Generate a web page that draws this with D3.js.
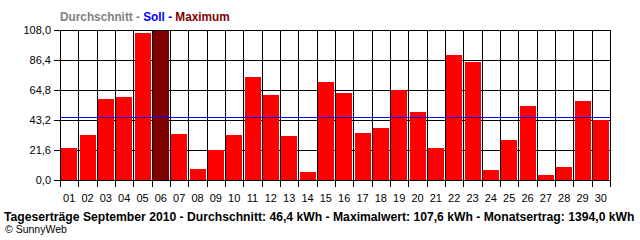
<!DOCTYPE html>
<html>
<head>
<meta charset="utf-8">
<script src="https://cdn.jsdelivr.net/npm/d3@7"></script>
<style>
html,body{margin:0;padding:0;background:#fff;}
svg{display:block;}
text{font-family:"Liberation Sans",Arial,sans-serif;}
</style>
</head>
<body>
<svg id="chart" width="640" height="240"></svg>
<script>
const days = ["01","02","03","04","05","06","07","08","09","10","11","12","13","14","15","16","17","18","19","20","21","22","23","24","25","26","27","28","29","30"];
const yields = [23.3,32.6,58.5,60.0,106.1,107.6,33.3,8.2,21.4,32.6,74.4,61.4,31.9,6.0,70.8,62.6,33.8,37.7,65.0,49.2,23.0,90.2,85.2,7.2,29.0,53.5,3.8,9.6,57.1,43.4];
const yTicks = [0,21.6,43.2,64.8,86.4,108.0];
const soll = 45.1;
const maxIndex = 5;
const legendParts = [{t:"Durchschnitt - ",c:"#808080"},{t:"Soll - ",c:"#0000ff"},{t:"Maximum",c:"#800000"}];
const footerText = "Tageserträge September 2010 - Durchschnitt: 46,4 kWh - Maximalwert: 107,6 kWh - Monatsertrag: 1394,0 kWh";
const creditText = "© SunnyWeb";

const svg = d3.select("#chart");
const L = 60, R = 610, T = 30, B = 180;
const x = d3.scaleBand().domain(days).range([L, R]).paddingInner(0.14).paddingOuter(0.07);
const xb = d3.scaleLinear().domain([0, days.length]).range([L, R]);
const y = d3.scaleLinear().domain([0, 108]).range([B, T]);
const px = v => Math.round(v) + 0.5;

// horizontal grid lines + left ticks
svg.append("g").selectAll("line").data(yTicks).join("line")
  .attr("x1", 54).attr("x2", R + 0.5)
  .attr("y1", d => px(y(d))).attr("y2", d => px(y(d)))
  .attr("stroke", "#000").attr("stroke-width", 1).attr("shape-rendering", "crispEdges");

// vertical grid lines + bottom ticks
svg.append("g").selectAll("line").data(d3.range(days.length + 1)).join("line")
  .attr("x1", d => px(xb(d))).attr("x2", d => px(xb(d)))
  .attr("y1", T).attr("y2", B + 7)
  .attr("stroke", "#000").attr("stroke-width", 1).attr("shape-rendering", "crispEdges");

// bars
svg.append("g").selectAll("rect").data(yields).join("rect")
  .attr("x", (d, i) => Math.round(x(days[i])))
  .attr("width", Math.round(x.bandwidth()))
  .attr("y", d => Math.round(y(d)))
  .attr("height", d => B - Math.round(y(d)))
  .attr("fill", (d, i) => i === maxIndex ? "#800000" : "#ff0000")
  .attr("shape-rendering", "crispEdges");

// Soll line
svg.append("line")
  .attr("x1", L).attr("x2", R + 1)
  .attr("y1", px(y(soll))).attr("y2", px(y(soll)))
  .attr("stroke", "#0000ff").attr("stroke-width", 1).attr("shape-rendering", "crispEdges");

// y labels
svg.append("g").selectAll("text").data(yTicks).join("text")
  .attr("x", 51).attr("y", d => y(d) + 4)
  .attr("text-anchor", "end").attr("font-size", "11px").attr("fill", "#000")
  .text(d => d.toFixed(1).replace(".", ","));

// x labels
svg.append("g").selectAll("text").data(days).join("text")
  .attr("x", d => x(d) + x.bandwidth() / 2).attr("y", 201.5)
  .attr("text-anchor", "middle").attr("font-size", "11px").attr("fill", "#000")
  .text(d => d);

// helper: fit text horizontally to a target width with a scale transform
function fitText(sel, x0, y0, targetW) {
  const w = sel.node().getComputedTextLength();
  sel.attr("x", 0).attr("y", 0)
     .attr("transform", `translate(${x0},${y0}) scale(${targetW / w},1)`);
}

// legend title
const lt = svg.append("text").attr("font-size", "12px").attr("font-weight", "bold");
lt.selectAll("tspan").data(legendParts).join("tspan")
  .attr("fill", d => d.c).text(d => d.t);
fitText(lt, 60, 21, 170);

// footer
const ft = svg.append("text")
  .attr("font-size", "12.5px").attr("font-weight", "bold").attr("fill", "#000")
  .text(footerText);
fitText(ft, 4, 220.5, 631);

svg.append("text").attr("x", 5).attr("y", 232.5)
  .attr("font-size", "10.5px").attr("fill", "#000")
  .text(creditText);
</script>
</body>
</html>
